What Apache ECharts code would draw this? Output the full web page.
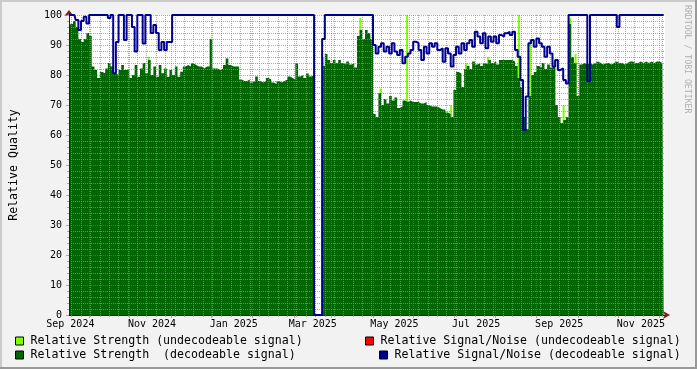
<!DOCTYPE html>
<html>
<head>
<meta charset="utf-8">
<script src="https://cdn.jsdelivr.net/npm/echarts@6/dist/echarts.min.js"></script>
<style>
html,body{margin:0;padding:0;background:#f2f2f2;}
#c{width:697px;height:369px;}
</style>
</head>
<body>
<div id="c"></div>
<script>
// ---- data ----
const startDate = [2024, 7, 17];   // first day shown (UTC y, m0, d)
const endDay = 445;                // days shown
const stepDays = 2;                // spacing of samples

const xLabels = ['Sep 2024', 'Nov 2024', 'Jan 2025', 'Mar 2025', 'May 2025', 'Jul 2025', 'Sep 2025', 'Nov 2025'];

// Relative Strength (decodeable signal), one value every 2 days
const strengthDecodable = [
  95, 97, 98, 96, 92, 91, 92, 94, 93, 82.8,
  81.7, 79, 81, 80.6, 82.2, 84, 82.8, 80.6, 80, 81.7,
  83.3, 81.7, 81.7, 79, 80, 83.3, 79.4, 82.2, 84, 80.6,
  85, 80, 82.8, 79.4, 83.3, 80.6, 82.2, 79.4, 81.7, 80,
  82.8, 79.4, 81.1, 82.8, 83.3, 82.8, 83.9, 83.3, 82.8, 82.8,
  82.2, 82.8, 82.8, 92, 82.2, 82.2, 81.7, 82.2, 83.3, 85.5,
  83.3, 82.8, 82.8, 82.8, 78.5, 78, 78, 78.5, 77.5, 78,
  79.5, 78, 77.5, 78, 79, 78.5, 77.5, 77, 78, 77.5,
  78, 78.5, 79.5, 79, 78.5, 84, 79.5, 80, 79, 80.5,
  79.5, 80, 0, 0, 0, 83, 87, 85, 84, 85,
  84, 85, 84, 83.5, 84.5, 83.5, 84, 82.5, 93, 95,
  92, 95, 94, 92, 67, 66, 74, 70, 72, 70.5,
  73, 71.5, 72.5, 69, 69.5, 71.5, 71, 71.5, 71, 71,
  71, 70.5, 70.5, 71, 70, 69.5, 69.5, 69.5, 69, 68.5,
  68.5, 67.5, 67, 66, 75, 81, 80.5, 76, 82, 83,
  82, 84.5, 83.5, 84, 83, 84, 83.5, 85, 84, 84.5,
  83.5, 85, 85, 85, 85, 85, 84.5, 83, 79, 76,
  66, 62, 73, 80, 81, 83, 82.5, 84, 82, 83.5,
  82.5, 83, 70, 66, 64, 65, 66, 97, 86, 84,
  73, 83.5, 84, 83.5, 84, 83.5, 84, 84.5, 84, 83.5,
  84, 84, 83.5, 84, 84.5, 84, 84, 83.5, 84, 84.5,
  84.5, 84, 84, 84.5, 84, 84.5, 84, 84.5, 84, 84.5,
  84.5, 84, 84.5
];

// Relative Signal/Noise (decodeable signal), one value every 2 days
const snDecodable = [
  100, 100, 100, 98.3, 95, 98, 99.4, 97.2, 100, 100,
  100, 100, 100, 100, 100, 99, 100, 80.6, 91, 100,
  100, 91.7, 100, 100, 96, 87.8, 100, 100, 90.5, 100,
  100, 94, 96.7, 94, 88.3, 91, 88.3, 91, 91, 100,
  100, 100, 100, 100, 100, 100, 100, 100, 100, 100,
  100, 100, 100, 100, 100, 100, 100, 100, 100, 100,
  100, 100, 100, 100, 100, 100, 100, 100, 100, 100,
  100, 100, 100, 100, 100, 100, 100, 100, 100, 100,
  100, 100, 100, 100, 100, 100, 100, 100, 100, 100,
  100, 100, 0, 0, 0, 92, 100, 100, 100, 100,
  100, 100, 100, 100, 100, 100, 100, 100, 100, 100,
  100, 100, 100, 100, 90, 87.2, 89.4, 90.6, 87.8, 89.4,
  87.2, 90.6, 87.8, 86.7, 88.3, 83.9, 86.1, 87.2, 88.3, 91.1,
  90.6, 88.3, 85, 89.4, 87.2, 90.6, 89.4, 90.6, 88.3, 88.9,
  84.4, 88.9, 87.2, 82.8, 86.7, 89.4, 87.2, 90.6, 88.3, 90.6,
  91.7, 89.4, 94.4, 92.8, 90.6, 93.9, 88.9, 92.8, 91.1, 92.8,
  90.6, 93.3, 92.8, 93.9, 94.4, 93.3, 94.4, 88.3, 86.1, 78.3,
  61.7, 72.8, 90.6, 91.7, 89.4, 92.2, 90.6, 89.4, 86.1, 89.4,
  87.2, 82.8, 85, 81.7, 82.2, 78.3, 77.2, 100, 100, 100,
  100, 100, 100, 100, 78, 100, 100, 100, 100, 100,
  100, 100, 100, 100, 100, 96, 100, 100, 100, 100,
  100, 100, 100, 100, 100, 100, 100, 100, 100, 100,
  100, 100, 100
];

// Relative Strength (undecodeable signal): [day, value] where it shows above the decodeable area
const strengthUndecodable = [
  [59.4, 86], [189.7, 86], [217.5, 99], [232.6, 75.5], [252.4, 100],
  [285.3, 70], [296.5, 84], [312.8, 86], [335.9, 100], [344.4, 92],
  [362.6, 85], [369.3, 70], [374.1, 99], [378.2, 87]
];

// Relative Signal/Noise (undecodeable signal): nothing visible
const snUndecodable = [];

// ---- helpers (axis positions from the calendar) ----
const DAY = 86400000;
const base = Date.UTC(startDate[0], startDate[1], startDate[2]);
const dayOf = (y, m) => (Date.UTC(y, m, 1) - base) / DAY;
const monthNames = ['Jan','Feb','Mar','Apr','May','Jun','Jul','Aug','Sep','Oct','Nov','Dec'];

const monthStarts = [];
for (let y = 2024, m = 8; y < 2025 || m <= 10; ) {
  const d = dayOf(y, m);
  if (d >= 0 && d <= endDay) monthStarts.push(d);
  m++; if (m > 11) { m = 0; y++; }
}
const mondays = [];
for (let d = 2; d <= endDay; d += 7) mondays.push(d);

const labelPos = xLabels.map(s => {
  const p = s.split(' ');
  return dayOf(+p[1], monthNames.indexOf(p[0])) - 14;
});
const labelFmt = v => {
  for (let i = 0; i < labelPos.length; i++) if (Math.abs(labelPos[i] - v) < 0.01) return xLabels[i];
  return '';
};

const toXY = arr => arr.map((v, i) => [i * stepDays, v]);

const MONO = '"DejaVu Sans Mono", monospace';
const MGRID = 'rgba(222,80,80,0.6)';
const GRID = 'rgba(143,143,143,0.75)';

const legendBase = {
  orient: 'horizontal', padding: 0, itemWidth: 8, itemHeight: 8, icon: 'rect',
  selectedMode: false,
  itemStyle: { borderColor: '#000', borderWidth: 1 },
  textStyle: { fontFamily: MONO, fontSize: 11.6, color: '#000', padding: [0, 0, 0, 2] }
};

const chart = echarts.init(document.getElementById('c'));
chart.setOption({
  animation: false,
  backgroundColor: '#f2f2f2',
  grid: { left: 67, right: 32, top: 15, bottom: 54, show: true, backgroundColor: '#ffffff', borderWidth: 0 },
  xAxis: [
    {
      type: 'value', min: 0, max: endDay, position: 'bottom', z: 3,
      axisLine: { show: true, lineStyle: { color: '#1f1f1f', width: 1 } },
      axisTick: { show: true, customValues: monthStarts, length: 3, lineStyle: { color: MGRID } },
      axisLabel: { show: true, customValues: labelPos, formatter: labelFmt, fontFamily: MONO, fontSize: 10, color: '#000', margin: 4 },
      splitLine: { show: true, lineStyle: { color: MGRID, type: [1, 1], width: 1 } }
    },
    {
      type: 'value', min: 0, max: endDay, position: 'bottom', z: 3,
      axisLine: { show: true, symbol: ['none', 'arrow'], symbolSize: [6, 7], symbolOffset: [0, 5], lineStyle: { color: '#7f1f1f', width: 0 } },
      axisTick: { show: true, customValues: mondays, length: 2, lineStyle: { color: GRID } },
      axisLabel: { show: false },
      splitLine: { show: true, lineStyle: { color: GRID, type: [1, 1], width: 1 } }
    }
  ],
  yAxis: [
    {
      type: 'value', min: 0, max: 100, interval: 10, position: 'left', z: 3,
      name: 'Relative Quality', nameLocation: 'middle', nameRotate: 90, nameGap: 49,
      nameTextStyle: { fontFamily: MONO, fontSize: 11.6, color: '#000' },
      axisLine: { show: true, lineStyle: { color: '#1f1f1f', width: 1 } },
      axisTick: { show: true, length: 3, lineStyle: { color: MGRID } },
      minorTick: { show: true, splitNumber: 5, length: 2, lineStyle: { color: GRID } },
      axisLabel: { fontFamily: MONO, fontSize: 10, color: '#000', margin: 7 },
      splitLine: { show: true, lineStyle: { color: MGRID, type: [1, 1], width: 1 } },
      minorSplitLine: { show: true, lineStyle: { color: GRID, type: [1, 1], width: 1 } }
    },
    {
      type: 'value', min: 0, max: 100, position: 'left', z: 3,
      axisLine: { show: true, symbol: ['none', 'arrow'], symbolSize: [7, 6], symbolOffset: [0, 5], lineStyle: { color: '#7f1f1f', width: 0 } },
      axisTick: { show: false }, axisLabel: { show: false }, splitLine: { show: false }
    }
  ],
  legend: [
    Object.assign({}, legendBase, { left: 15, top: 335, data: ['Relative Strength (undecodeable signal)'] }),
    Object.assign({}, legendBase, { left: 15, top: 349, data: ['Relative Strength  (decodeable signal)'] }),
    Object.assign({}, legendBase, { left: 365, top: 335, data: ['Relative Signal/Noise (undecodeable signal)'] }),
    Object.assign({}, legendBase, { left: 379, top: 349, data: ['Relative Signal/Noise (decodeable signal)'] })
  ],
  series: [
    {
      name: 'Relative Strength (undecodeable signal)', type: 'bar', xAxisIndex: 0, yAxisIndex: 0,
      data: strengthUndecodable, barWidth: 2, z: 1,
      itemStyle: { color: '#80ff00' }
    },
    {
      name: 'Relative Strength  (decodeable signal)', type: 'line', xAxisIndex: 0, yAxisIndex: 0,
      data: toXY(strengthDecodable), step: 'middle', symbol: 'none', showSymbol: false, z: 2,
      lineStyle: { width: 0, color: '#006600' }, itemStyle: { color: '#006600' },
      areaStyle: { color: '#006600', opacity: 1 }
    },
    {
      name: 'Relative Signal/Noise (undecodeable signal)', type: 'line', xAxisIndex: 0, yAxisIndex: 0,
      data: snUndecodable, symbol: 'none', z: 4,
      lineStyle: { color: '#ff0000', width: 2 }, itemStyle: { color: '#ff0000' }
    },
    {
      name: 'Relative Signal/Noise (decodeable signal)', type: 'line', xAxisIndex: 0, yAxisIndex: 0,
      data: toXY(snDecodable), step: 'middle', symbol: 'none', showSymbol: false, clip: false, z: 4,
      lineStyle: { color: '#000090', width: 2 }, itemStyle: { color: '#000090' }
    }
  ],
  graphic: [
    { type: 'rect', silent: true, shape: { x: 0, y: 0, width: 697, height: 2 }, style: { fill: '#cbcbcb' } },
    { type: 'rect', silent: true, shape: { x: 0, y: 0, width: 2, height: 369 }, style: { fill: '#cbcbcb' } },
    { type: 'rect', silent: true, shape: { x: 0, y: 367, width: 697, height: 2 }, style: { fill: '#999999' } },
    { type: 'rect', silent: true, shape: { x: 695, y: 0, width: 2, height: 369 }, style: { fill: '#999999' } },
    {
      type: 'text', silent: true, x: 691, y: 5, rotation: -Math.PI / 2,
      style: { text: 'RRDTOOL / TOBI OETIKER', font: '8.2px "DejaVu Sans Mono"', fill: '#b0b0b0', align: 'left', verticalAlign: 'top', textAlign: 'left', textVerticalAlign: 'top' }
    }
  ]
});
</script>
</body>
</html>
